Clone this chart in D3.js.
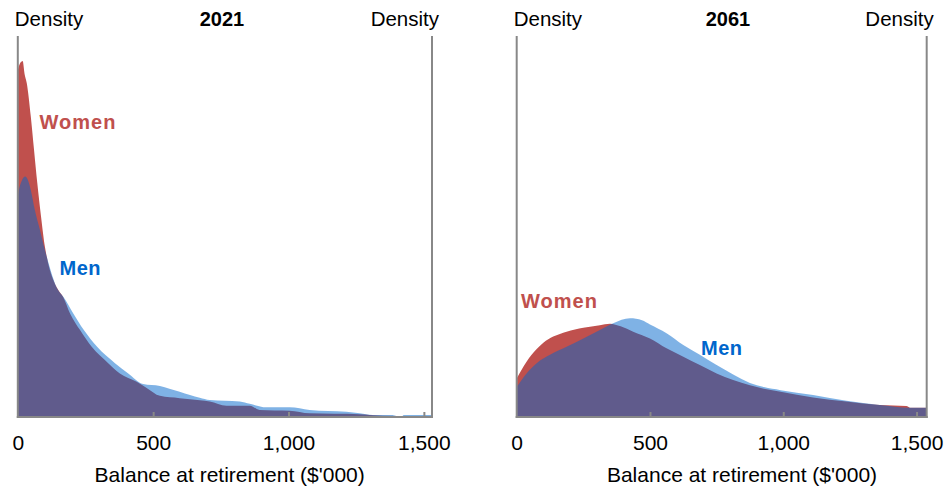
<!DOCTYPE html>
<html><head><meta charset="utf-8">
<script src="https://cdn.jsdelivr.net/npm/d3@7"></script>
<style>
body{margin:0;background:#fff}
svg{display:block;font-family:Arial,"Liberation Sans",sans-serif}
</style>
</head><body>
<svg id="c" width="947" height="489"></svg>
<script>
// ---- data ----
const panelTitles = ["2021", "2061"];
const tickValues = [0, 500, 1000, 1500];
const tickLabels = ["0", "500", "1,000", "1,500"];
const xTitle = "Balance at retirement ($'000)";
const seriesNames = ["Women", "Men"];

// 2021 (balance $'000, density index)
const women2021X = [0,10,18,25,33,48,60,72,86,100,107,149,167,193,230,273,334,377,439,476,525,598,636,709,771,857,893,1004,1078,1263,1299,1399,1530];
const women2021Y = [91,93,93.4,90,87.6,78.8,70,61.3,52.4,44.6,41.9,33.2,31.4,27.0,22.6,18.2,13.9,11.2,9.0,7.4,5.3,4.7,4.4,3.8,2.7,2.7,1.6,1.4,0.7,0.45,0.26,0,0];
const men2021X = [0,4,15,27,38,48,63,82,100,107,148,168,205,244,293,359,408,463,525,560,598,636,672,709,820,857,918,1004,1078,1214,1263,1311,1384,1399,1421,1425,1530];
const men2021Y = [58,59.5,62,63,62,59.5,54.2,48.9,43.7,41.9,33.2,31.4,27.0,22.6,18.2,13.9,11.2,8.4,7.9,7.2,6.4,5.5,4.8,4.2,3.8,3.2,2.3,2.3,1.6,1.1,0.7,0.26,0.26,0,0,0.26,0.26];

// 2061
const women2061X = [0,37,75,100,137,187,250,312,350,390,437,500,562,625,687,750,812,875,927,990,1112,1237,1362,1462,1475,1538];
const women2061Y = [9.9,14.3,17.6,19.3,20.9,22.2,23.2,23.9,24.3,23.6,22.2,20.4,17.8,15.6,13.4,11.2,9.5,8.1,7.2,6.4,4.9,3.8,2.9,2.6,2.2,2.2];
const men2061X = [0,37,75,125,187,250,312,362,425,470,500,562,625,687,750,812,875,927,990,1112,1237,1362,1475,1538];
const men2061Y = [7.6,11.2,13.9,16.1,18.2,20.4,22.6,24.4,25.7,25.2,24.1,21.8,18.7,16.1,13.4,10.9,8.7,7.6,6.8,5.5,4.0,2.9,2.2,2.2];

const xMax = [1530, 1538];
const yMax = 100;

// ---- drawing ----
const svg = d3.select("#c");
const colWomen = "#c0504d", colMen = "#0066cc", axisCol = "#888888";

const panels = [
  {title: panelTitles[0], x0: 17.8, x1: 432, women: [women2021X, women2021Y], men: [men2021X, men2021Y], xMax: xMax[0],
   womenLbl: [39.5, 129], menLbl: [59.5, 275], titleX: 222, axisTitleX: 229.7},
  {title: panelTitles[1], x0: 516.7, x1: 926.7, women: [women2061X, women2061Y], men: [men2061X, men2061Y], xMax: xMax[1],
   womenLbl: [521, 307.5], menLbl: [701, 355], titleX: 728, axisTitleX: 742}
];
const yTop = 36, yBase = 416, yAxis = 417;

panels.forEach(p => {
  const x = d3.scaleLinear().domain([0, p.xMax]).range([p.x0, p.x1]);
  const y = d3.scaleLinear().domain([0, yMax]).range([yBase, yTop]);
  const g = svg.append("g");
  const area = d3.area().x(d => x(d[0])).y0(y(0)).y1(d => y(d[1])).curve(d3.curveMonotoneX);
  const wData = p.women[0].map((v, i) => [v, p.women[1][i]]);
  const mData = p.men[0].map((v, i) => [v, p.men[1][i]]);
  g.append("path").attr("d", area(wData)).attr("fill", colWomen);
  g.append("path").attr("d", area(mData)).attr("fill", colMen).attr("fill-opacity", 0.5);

  // axes
  const ax = d3.axisBottom(x).tickValues(tickValues).tickSize(0).tickFormat((d, i) => tickLabels[i]);
  const axg = g.append("g").attr("transform", `translate(0,${yAxis})`).call(ax);
  axg.select(".domain").remove();
  axg.selectAll("text").attr("y", 33).attr("dy", 0).attr("font-size", 21).attr("fill", "#000").attr("font-family", "Arial, 'Liberation Sans', sans-serif");
  axg.selectAll(".tick").filter(d => d > 0).append("line").attr("y1", 0).attr("y2", -5).attr("stroke", axisCol).attr("stroke-width", 2);
  g.append("line").attr("x1", p.x0 - 1).attr("x2", p.x1 + 1).attr("y1", yAxis).attr("y2", yAxis).attr("stroke", axisCol).attr("stroke-width", 2);
  g.append("line").attr("x1", p.x0).attr("x2", p.x0).attr("y1", yTop).attr("y2", yAxis + 1).attr("stroke", axisCol).attr("stroke-width", 2);
  g.append("line").attr("x1", p.x1).attr("x2", p.x1).attr("y1", yTop).attr("y2", yAxis + 1).attr("stroke", axisCol).attr("stroke-width", 2);

  // texts
  g.append("text").attr("x", p.x0 - 3).attr("y", 26).attr("font-size", 20.5).text("Density");
  g.append("text").attr("x", p.x1 + 7).attr("y", 26).attr("font-size", 20.5).attr("text-anchor", "end").text("Density");
  g.append("text").attr("x", p.titleX).attr("y", 26).attr("font-size", 20).attr("font-weight", "bold").attr("text-anchor", "middle").text(p.title);
  g.append("text").attr("x", p.axisTitleX).attr("y", 481.5).attr("font-size", 21).attr("text-anchor", "middle").text(xTitle);
  g.append("text").attr("x", p.womenLbl[0]).attr("y", p.womenLbl[1]).attr("font-size", 20).attr("font-weight", "bold").attr("letter-spacing", 1).attr("fill", colWomen).text(seriesNames[0]);
  g.append("text").attr("x", p.menLbl[0]).attr("y", p.menLbl[1]).attr("font-size", 20).attr("font-weight", "bold").attr("letter-spacing", 0.5).attr("fill", colMen).text(seriesNames[1]);
});
</script>
</body></html>
